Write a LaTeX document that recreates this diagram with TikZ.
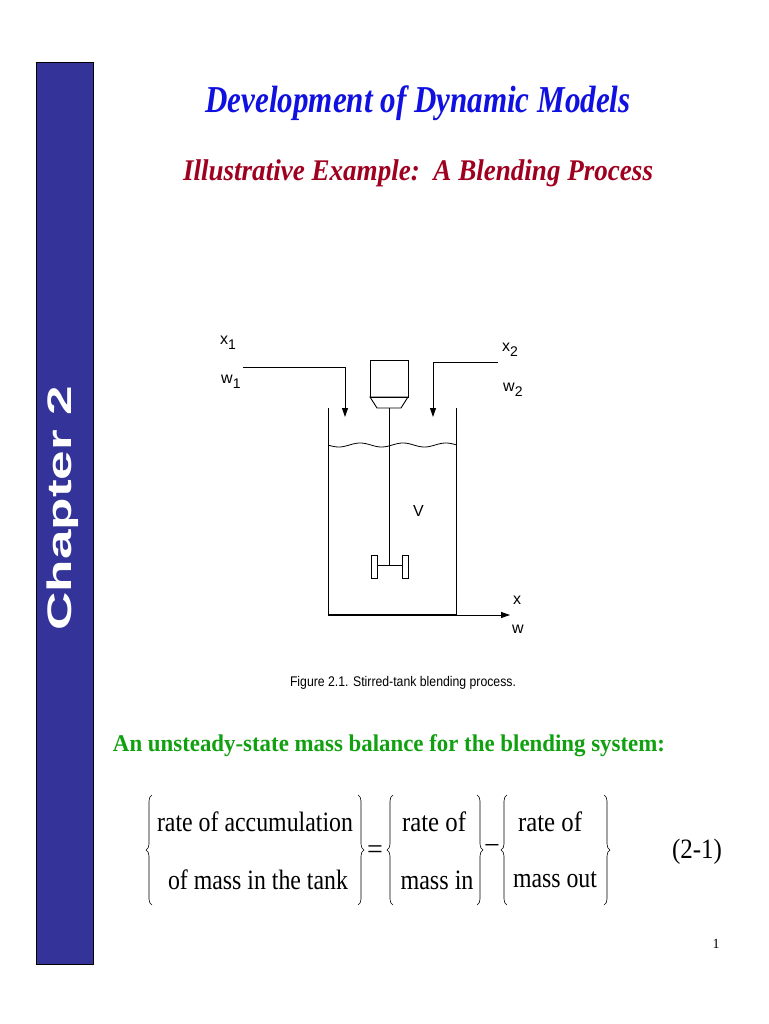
\documentclass[tikz,border=0pt]{standalone}
\usepackage{fontspec}
\usepackage{graphicx}
\setmainfont{Liberation Serif}
\newfontfamily\hv{Liberation Sans}
\usetikzlibrary{arrows.meta,decorations.pathreplacing}
\definecolor{barblue}{HTML}{333399}
\definecolor{titleblue}{HTML}{1010E0}
\definecolor{subred}{HTML}{A00020}
\definecolor{hgreen}{HTML}{10A010}
\newcommand{\fitw}[2]{\resizebox{#1}{\height}{#2}}
\newcommand{\sbs}[1]{\raisebox{-5pt}{\fontsize{14}{14}\selectfont #1}}
\begin{document}
\begin{tikzpicture}[x=1pt,y=-1pt,
  lbl/.style={font=\hv\fontsize{16}{16}\selectfont,inner sep=0pt,anchor=west},
  pipe/.style={line width=0.9pt},
  flow/.style={pipe,-{Triangle[length=9pt,width=6pt]}},
  eqt/.style={font=\fontsize{28}{28}\selectfont,inner sep=0pt},
  brc/.style={decorate,decoration={brace,amplitude=6pt},line width=0.6pt}]
\useasboundingbox (0,0) rectangle (768,1024);
\fill[white] (0,0) rectangle (768,1024);
\fill[barblue] (36,62) rectangle (93,964);
\draw[black,line width=0.6pt] (36,62) rectangle (93,964);
\node[rotate=90,text=white,font=\hv\bfseries\fontsize{34}{34}\selectfont] (chap) at (63,508) {\fitw{245pt}{Chapter 2}};
\node[text=titleblue,font=\bfseries\itshape\fontsize{38}{38}\selectfont] (title) at (418,103) {\fitw{425pt}{Development of Dynamic Models}};
\node[text=subred,font=\bfseries\itshape\fontsize{30}{30}\selectfont] (sub) at (418,173) {\fitw{470pt}{Illustrative Example:\ \ A Blending Process}};
% tank
\draw[pipe] (328,408) -- (328,615);
\draw[pipe] (456,408) -- (456,615);
\draw[line width=1.8pt] (328,615) -- (456,615);
\coordinate (outend) at (510,615);
\draw[flow] (456,615) -- (outend);
\coordinate (in1s) at (243,367); \coordinate (in1e) at (345,417);
\draw[flow] (in1s) -| (in1e);
\coordinate (in2s) at (498,362); \coordinate (in2e) at (433,417);
\draw[flow] (in2s) -| (in2e);
\draw[pipe] (370,360) rectangle (408,397);
\draw[pipe] (370,397) -- (408,397) -- (401,408) -- (377,408) -- cycle;
\draw[line width=0.6pt] (389,408) -- (389,565);
\draw[line width=0.6pt] (377,565) -- (402,565);
\draw[line width=0.6pt] (371,555) rectangle (377,578);
\draw[line width=0.6pt] (402,555) rectangle (408,578);
\draw[line width=0.8pt] plot[domain=328:456,samples=80,smooth] (\x,{445+2*sin((\x-328)*8.4)});
\node[lbl] (x1) at (220,343) {x\sbs{1}};
\node[lbl] (w1) at (221,382) {w\sbs{1}};
\node[lbl] (x2) at (502,350) {x\sbs{2}};
\node[lbl] (w2) at (503,390) {w\sbs{2}};
\node[lbl] (V) at (413,511) {V};
\node[lbl] (x) at (513,600) {x};
\node[lbl] (w) at (512,629) {w};
\node[font=\hv\fontsize{14}{14}\selectfont] (cap) at (403,683) {\fitw{226pt}{Figure 2.1. Stirred-tank blending process.}};
\node[text=hgreen,font=\bfseries\fontsize{24}{24}\selectfont] (head) at (389,746) {\fitw{552pt}{An unsteady-state mass balance for the blending system:}};
% equation
\coordinate (b1b) at (152,905); \coordinate (b1t) at (152,795);
\coordinate (b2t) at (358,795); \coordinate (b2b) at (358,905);
\coordinate (b3b) at (393,905); \coordinate (b3t) at (393,795);
\coordinate (b4t) at (477,795); \coordinate (b4b) at (477,905);
\coordinate (b5b) at (507,905); \coordinate (b5t) at (507,795);
\coordinate (b6t) at (604,795); \coordinate (b6b) at (604,905);
\draw[brc] (b1b) -- (b1t); \draw[brc] (b2t) -- (b2b);
\draw[brc] (b3b) -- (b3t); \draw[brc] (b4t) -- (b4b);
\draw[brc] (b5b) -- (b5t); \draw[brc] (b6t) -- (b6b);
\node[eqt] (r1) at (255,822) {\fitw{196pt}{rate of\ accumulation}};
\node[eqt] (r2) at (258,880) {\fitw{180pt}{of\ mass in the tank}};
\node[eqt] (r3) at (434,822) {\fitw{64pt}{rate of}};
\node[eqt] (r4) at (437,880) {\fitw{73pt}{mass in}};
\node[eqt] (r5) at (550,822) {\fitw{64pt}{rate of}};
\node[eqt] (r6) at (555,880) {\fitw{84pt}{mass out}};
\node[eqt] (eqs) at (375,852) {=};
\node[eqt] (mns) at (492,849) {−};
\node[eqt] (num) at (697,852) {\fitw{50pt}{(2-1)}};
\node[font=\fontsize{14}{14}\selectfont] (pg) at (716,944) {1};
\end{tikzpicture}
\end{document}
